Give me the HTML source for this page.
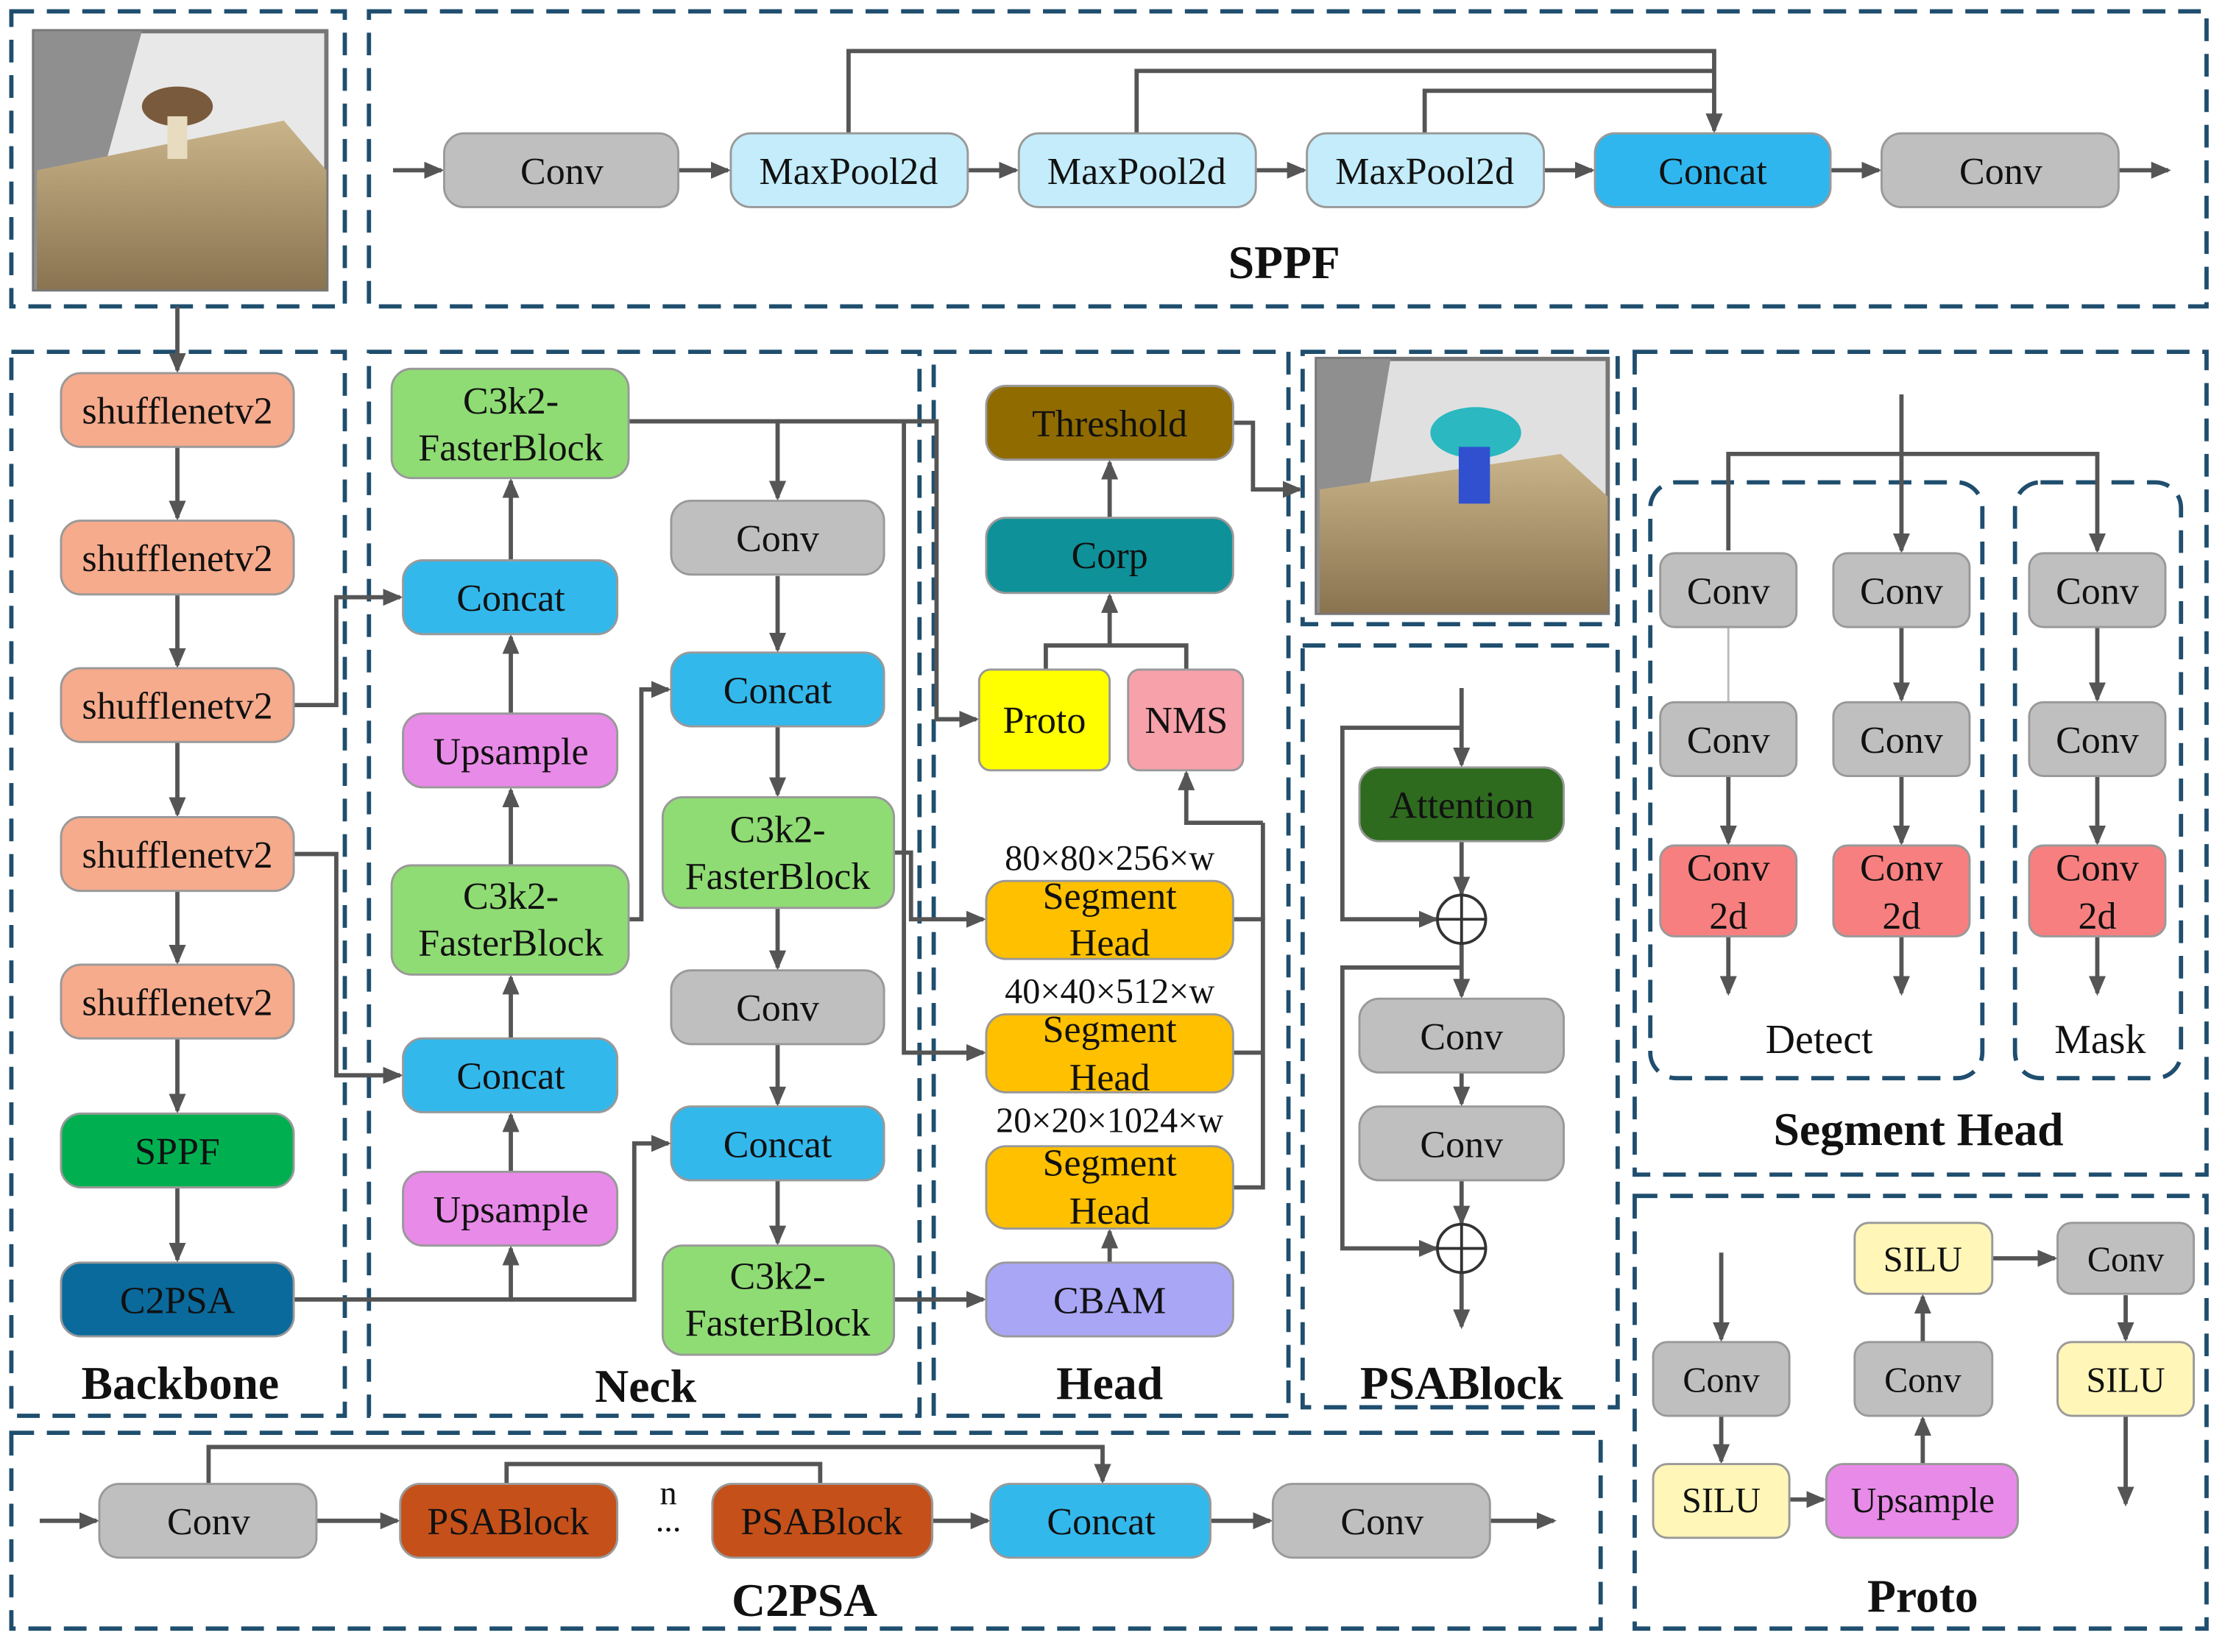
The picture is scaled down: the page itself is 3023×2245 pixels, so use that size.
<!DOCTYPE html>
<html><head><meta charset="utf-8">
<style>
html,body{margin:0;padding:0;background:#fff;}
svg{display:block;}
text{font-family:"Liberation Serif",serif;}
</style></head>
<body>
<svg width="3023" height="2245" viewBox="0 0 1568 1164.5" preserveAspectRatio="none" xmlns="http://www.w3.org/2000/svg">
<defs>
<marker id="a" markerWidth="14" markerHeight="12" refX="12" refY="6" orient="auto" markerUnits="userSpaceOnUse">
<path d="M0,0 L14,6 L0,12 z" fill="#555"/></marker>
<linearGradient id="log" x1="0" y1="0" x2="0" y2="1"><stop offset="0" stop-color="#c9b48a"/><stop offset="1" stop-color="#8a7350"/></linearGradient>
</defs>
<rect width="1568" height="1164.5" fill="#fff"/>

<g fill="none" stroke="#1f4e6e" stroke-width="3" stroke-dasharray="16 9">
<rect x="8" y="8" width="235" height="208"/>
<rect x="260" y="8" width="1295" height="208"/>
<rect x="8" y="248" width="235" height="750"/>
<rect x="260" y="248" width="388" height="750"/>
<rect x="658" y="248" width="250" height="750"/>
<rect x="918" y="248" width="222" height="192"/>
<rect x="918" y="455" width="222" height="537"/>
<rect x="1152" y="248" width="403" height="580"/>
<rect x="1152" y="843" width="403" height="305"/>
<rect x="8" y="1010" width="1120" height="138"/>
<rect x="1163" y="340" width="234" height="420" rx="18"/>
<rect x="1420" y="340" width="117" height="420" rx="18"/>
</g>

<!-- images -->
<g>
<rect x="24" y="22" width="206" height="182" fill="#e8e8e8" stroke="#777" stroke-width="3"/>
<polygon points="24,22 100,22 50,204 24,204" fill="#8f8f8f"/>
<polygon points="26,120 200,85 230,120 230,204 26,204" fill="url(#log)"/>
<ellipse cx="125" cy="75" rx="25" ry="14" fill="#7a5a3c"/>
<rect x="118" y="82" width="14" height="30" fill="#e8dcc0"/>
<rect x="928" y="253" width="205" height="179" fill="#e0e0e0" stroke="#777" stroke-width="3"/>
<polygon points="928,253 980,253 950,432 928,432" fill="#8f8f8f"/>
<polygon points="930,345 1100,320 1133,350 1133,432 930,432" fill="url(#log)"/>
<ellipse cx="1040" cy="305" rx="32" ry="18" fill="#2bb8c0"/>
<rect x="1028" y="315" width="22" height="40" fill="#3050d0"/>
</g>

<g stroke="#555" stroke-width="3" fill="none" marker-end="url(#a)">
<!-- SPPF -->
<line x1="277" y1="120" x2="311" y2="120"/>
<line x1="478" y1="120" x2="513" y2="120"/>
<line x1="682" y1="120" x2="716" y2="120"/>
<line x1="885" y1="120" x2="919" y2="120"/>
<line x1="1088" y1="120" x2="1122" y2="120"/>
<line x1="1290" y1="120" x2="1324" y2="120"/>
<line x1="1493" y1="120" x2="1528" y2="120"/>
<polyline points="598,94 598,36 1208,36 1208,92"/>
<polyline points="801,94 801,50 1208,50" marker-end="none"/>
<polyline points="1004,94 1004,64 1208,64" marker-end="none"/>
<!-- backbone -->
<line x1="125" y1="216" x2="125" y2="261"/>
<line x1="125" y1="315" x2="125" y2="365"/>
<line x1="125" y1="419" x2="125" y2="469"/>
<line x1="125" y1="523" x2="125" y2="574"/>
<line x1="125" y1="628" x2="125" y2="678"/>
<line x1="125" y1="732" x2="125" y2="783"/>
<line x1="125" y1="837" x2="125" y2="888"/>
<!-- neck left -->
<polyline points="207,497 237,497 237,421 282,421"/>
<polyline points="207,602 237,602 237,758 282,758"/>
<polyline points="207,916 360,916 360,880"/>
<polyline points="360,916 447,916 447,806 471,806"/>
<line x1="360" y1="826" x2="360" y2="786"/>
<line x1="360" y1="732" x2="360" y2="689"/>
<line x1="360" y1="610" x2="360" y2="557"/>
<line x1="360" y1="503" x2="360" y2="449"/>
<line x1="360" y1="395" x2="360" y2="339"/>
<polyline points="443,648 452,648 452,486 471,486"/>
<polyline points="443,297 548,297 548,351"/>
<polyline points="548,297 660,297 660,507 688,507"/>
<polyline points="637,297 637,742 693,742"/>
<line x1="548" y1="406" x2="548" y2="458"/>
<line x1="548" y1="512" x2="548" y2="560"/>
<line x1="548" y1="640" x2="548" y2="682"/>
<line x1="548" y1="736" x2="548" y2="778"/>
<line x1="548" y1="832" x2="548" y2="876"/>
<polyline points="630,601 642,601 642,648 693,648"/>
<line x1="630" y1="916" x2="693" y2="916"/>
<!-- head -->
<line x1="782" y1="890" x2="782" y2="868"/>
<polyline points="869,648 890,648 890,837 869,837" marker-end="none"/>
<line x1="890" y1="580" x2="890" y2="648" marker-end="none"/>
<line x1="869" y1="742" x2="890" y2="742" marker-end="none"/>
<polyline points="890,580 836,580 836,545"/>
<polyline points="737,472 737,455 836,455 836,472" marker-end="none"/>
<line x1="782" y1="455" x2="782" y2="420"/>
<line x1="782" y1="365" x2="782" y2="326"/>
<polyline points="869,298 883,298 883,345 916,345"/>
<!-- PSABlock -->
<line x1="1030" y1="485" x2="1030" y2="539"/>
<polyline points="1030,513 946,513 946,648 1012,648"/>
<line x1="1030" y1="593" x2="1030" y2="630"/>
<line x1="1030" y1="664" x2="1030" y2="702"/>
<polyline points="1030,682 946,682 946,880 1012,880"/>
<line x1="1030" y1="756" x2="1030" y2="778"/>
<line x1="1030" y1="832" x2="1030" y2="862"/>
<line x1="1030" y1="896" x2="1030" y2="935"/>
<!-- Segment head -->
<line x1="1340" y1="278" x2="1340" y2="388"/>
<polyline points="1218,388 1218,320 1478,320 1478,388"/>
<line x1="1340" y1="442" x2="1340" y2="493"/>
<line x1="1478" y1="442" x2="1478" y2="493"/>
<line x1="1218" y1="547" x2="1218" y2="594"/>
<line x1="1340" y1="547" x2="1340" y2="594"/>
<line x1="1478" y1="547" x2="1478" y2="594"/>
<line x1="1218" y1="660" x2="1218" y2="700"/>
<line x1="1340" y1="660" x2="1340" y2="700"/>
<line x1="1478" y1="660" x2="1478" y2="700"/>
<!-- Proto -->
<line x1="1213" y1="883" x2="1213" y2="944"/>
<line x1="1213" y1="998" x2="1213" y2="1030"/>
<line x1="1261" y1="1057" x2="1285" y2="1057"/>
<line x1="1355" y1="1032" x2="1355" y2="1000"/>
<line x1="1355" y1="946" x2="1355" y2="914"/>
<line x1="1404" y1="887" x2="1448" y2="887"/>
<line x1="1498" y1="913" x2="1498" y2="944"/>
<line x1="1498" y1="998" x2="1498" y2="1060"/>
<!-- C2PSA -->
<line x1="28" y1="1072" x2="68" y2="1072"/>
<line x1="223" y1="1072" x2="280" y2="1072"/>
<line x1="657" y1="1072" x2="696" y2="1072"/>
<line x1="853" y1="1072" x2="895" y2="1072"/>
<line x1="1050" y1="1072" x2="1095" y2="1072"/>
<polyline points="147,1046 147,1020 777,1020 777,1044"/>
<polyline points="357,1046 357,1032 578,1032 578,1046" marker-end="none"/>
</g>
<line x1="1218" y1="442" x2="1218" y2="495" stroke="#bbb" stroke-width="1.5"/>

<g stroke-width="1.5" font-size="27" text-anchor="middle" dominant-baseline="central">
<g stroke="#999">
<rect x="313" y="94" width="165" height="52" rx="14" fill="#bfbfbf"/>
<rect x="515" y="94" width="167" height="52" rx="14" fill="#c4ecfa"/>
<rect x="718" y="94" width="167" height="52" rx="14" fill="#c4ecfa"/>
<rect x="921" y="94" width="167" height="52" rx="14" fill="#c4ecfa"/>
<rect x="1124" y="94" width="166" height="52" rx="14" fill="#2fb6ee"/>
<rect x="1326" y="94" width="167" height="52" rx="14" fill="#bfbfbf"/>

<rect x="43" y="263" width="164" height="52" rx="14" fill="#f6ab8c"/>
<rect x="43" y="367" width="164" height="52" rx="14" fill="#f6ab8c"/>
<rect x="43" y="471" width="164" height="52" rx="14" fill="#f6ab8c"/>
<rect x="43" y="576" width="164" height="52" rx="14" fill="#f6ab8c"/>
<rect x="43" y="680" width="164" height="52" rx="14" fill="#f6ab8c"/>
<rect x="43" y="785" width="164" height="52" rx="14" fill="#00b050"/>
<rect x="43" y="890" width="164" height="52" rx="14" fill="#0a6a9c"/>

<rect x="276" y="260" width="167" height="77" rx="14" fill="#8fdc74"/>
<rect x="284" y="395" width="151" height="52" rx="14" fill="#33b8ec"/>
<rect x="284" y="503" width="151" height="52" rx="14" fill="#e88ae8"/>
<rect x="276" y="610" width="167" height="77" rx="14" fill="#8fdc74"/>
<rect x="284" y="732" width="151" height="52" rx="14" fill="#33b8ec"/>
<rect x="284" y="826" width="151" height="52" rx="14" fill="#e88ae8"/>
<rect x="473" y="353" width="150" height="52" rx="14" fill="#bfbfbf"/>
<rect x="473" y="460" width="150" height="52" rx="14" fill="#33b8ec"/>
<rect x="467" y="562" width="163" height="78" rx="14" fill="#8fdc74"/>
<rect x="473" y="684" width="150" height="52" rx="14" fill="#bfbfbf"/>
<rect x="473" y="780" width="150" height="52" rx="14" fill="#33b8ec"/>
<rect x="467" y="878" width="163" height="77" rx="14" fill="#8fdc74"/>

<rect x="695" y="272" width="174" height="52" rx="14" fill="#8f6b00"/>
<rect x="695" y="365" width="174" height="53" rx="14" fill="#0e9198"/>
<rect x="690" y="472" width="92" height="71" rx="8" fill="#ffff00"/>
<rect x="795" y="472" width="81" height="71" rx="8" fill="#f7a1aa"/>
<rect x="695" y="621" width="174" height="55" rx="14" fill="#ffc000"/>
<rect x="695" y="715" width="174" height="55" rx="14" fill="#ffc000"/>
<rect x="695" y="808" width="174" height="58" rx="14" fill="#ffc000"/>
<rect x="695" y="890" width="174" height="52" rx="14" fill="#a9a6f5"/>

<rect x="958" y="541" width="144" height="52" rx="14" fill="#2e6b1f"/>
<rect x="958" y="704" width="144" height="52" rx="14" fill="#bfbfbf"/>
<rect x="958" y="780" width="144" height="52" rx="14" fill="#bfbfbf"/>

<rect x="1170" y="390" width="96" height="52" rx="10" fill="#bfbfbf"/>
<rect x="1292" y="390" width="96" height="52" rx="10" fill="#bfbfbf"/>
<rect x="1430" y="390" width="96" height="52" rx="10" fill="#bfbfbf"/>
<rect x="1170" y="495" width="96" height="52" rx="10" fill="#bfbfbf"/>
<rect x="1292" y="495" width="96" height="52" rx="10" fill="#bfbfbf"/>
<rect x="1430" y="495" width="96" height="52" rx="10" fill="#bfbfbf"/>
<rect x="1170" y="596" width="96" height="64" rx="10" fill="#f87f7f"/>
<rect x="1292" y="596" width="96" height="64" rx="10" fill="#f87f7f"/>
<rect x="1430" y="596" width="96" height="64" rx="10" fill="#f87f7f"/>

<rect x="1165" y="946" width="96" height="52" rx="10" fill="#bfbfbf"/>
<rect x="1165" y="1032" width="96" height="52" rx="10" fill="#fff6b8"/>
<rect x="1287" y="1032" width="135" height="52" rx="12" fill="#e88ae8"/>
<rect x="1307" y="946" width="97" height="52" rx="10" fill="#bfbfbf"/>
<rect x="1307" y="862" width="97" height="50" rx="10" fill="#fff6b8"/>
<rect x="1450" y="862" width="96" height="50" rx="10" fill="#bfbfbf"/>
<rect x="1450" y="946" width="96" height="52" rx="10" fill="#fff6b8"/>

<rect x="70" y="1046" width="153" height="52" rx="14" fill="#bfbfbf"/>
<rect x="282" y="1046" width="153" height="52" rx="14" fill="#c5501a"/>
<rect x="502" y="1046" width="155" height="52" rx="14" fill="#c5501a"/>
<rect x="698" y="1046" width="155" height="52" rx="14" fill="#33b8ec"/>
<rect x="897" y="1046" width="153" height="52" rx="14" fill="#bfbfbf"/>
</g>
<g fill="#fff" stroke="#333" stroke-width="2">
<circle cx="1030" cy="648" r="17"/><circle cx="1030" cy="880" r="17"/>
</g>
<g stroke="#333" stroke-width="2">
<line x1="1013" y1="648" x2="1047" y2="648"/><line x1="1030" y1="631" x2="1030" y2="665"/>
<line x1="1013" y1="880" x2="1047" y2="880"/><line x1="1030" y1="863" x2="1030" y2="897"/>
</g>

<g stroke="none" fill="#111">
<text x="396" y="121">Conv</text>
<text x="598" y="121">MaxPool2d</text>
<text x="801" y="121">MaxPool2d</text>
<text x="1004" y="121">MaxPool2d</text>
<text x="1207" y="121">Concat</text>
<text x="1410" y="121">Conv</text>

<text x="125" y="290">shufflenetv2</text>
<text x="125" y="394">shufflenetv2</text>
<text x="125" y="498">shufflenetv2</text>
<text x="125" y="603">shufflenetv2</text>
<text x="125" y="707">shufflenetv2</text>
<text x="125" y="812">SPPF</text>
<text x="125" y="917">C2PSA</text>

<text x="360" y="283">C3k2-</text><text x="360" y="316">FasterBlock</text>
<text x="360" y="422">Concat</text>
<text x="360" y="530">Upsample</text>
<text x="360" y="632">C3k2-</text><text x="360" y="665">FasterBlock</text>
<text x="360" y="759">Concat</text>
<text x="360" y="853">Upsample</text>
<text x="548" y="380">Conv</text>
<text x="548" y="487">Concat</text>
<text x="548" y="585">C3k2-</text><text x="548" y="618">FasterBlock</text>
<text x="548" y="711">Conv</text>
<text x="548" y="807">Concat</text>
<text x="548" y="900">C3k2-</text><text x="548" y="933">FasterBlock</text>

<text x="782" y="299">Threshold</text>
<text x="782" y="392">Corp</text>
<text x="736" y="508">Proto</text>
<text x="836" y="508">NMS</text>
<text x="782" y="605" font-size="25">80×80×256×w</text>
<text x="782" y="632">Segment</text><text x="782" y="665">Head</text>
<text x="782" y="699" font-size="25">40×40×512×w</text>
<text x="782" y="726">Segment</text><text x="782" y="760">Head</text>
<text x="782" y="790" font-size="25">20×20×1024×w</text>
<text x="782" y="820">Segment</text><text x="782" y="854">Head</text>
<text x="782" y="917">CBAM</text>

<text x="1030" y="568">Attention</text>
<text x="1030" y="731">Conv</text>
<text x="1030" y="807">Conv</text>

<text x="1218" y="417">Conv</text><text x="1340" y="417">Conv</text><text x="1478" y="417">Conv</text>
<text x="1218" y="522">Conv</text><text x="1340" y="522">Conv</text><text x="1478" y="522">Conv</text>
<text x="1218" y="612">Conv</text><text x="1218" y="646">2d</text>
<text x="1340" y="612">Conv</text><text x="1340" y="646">2d</text>
<text x="1478" y="612">Conv</text><text x="1478" y="646">2d</text>
<text x="1282" y="733" font-size="29">Detect</text>
<text x="1480" y="733" font-size="29">Mask</text>

<text x="1213" y="973" font-family="Liberation Sans, sans-serif" font-size="25">Conv</text>
<text x="1213" y="1058" font-family="Liberation Sans, sans-serif" font-size="25">SILU</text>
<text x="1355" y="1058" font-family="Liberation Sans, sans-serif" font-size="25">Upsample</text>
<text x="1355" y="973" font-family="Liberation Sans, sans-serif" font-size="25">Conv</text>
<text x="1355" y="888" font-family="Liberation Sans, sans-serif" font-size="25">SILU</text>
<text x="1498" y="888" font-family="Liberation Sans, sans-serif" font-size="25">Conv</text>
<text x="1498" y="973" font-family="Liberation Sans, sans-serif" font-size="25">SILU</text>

<text x="147" y="1073">Conv</text>
<text x="358" y="1073">PSABlock</text>
<text x="579" y="1073">PSABlock</text>
<text x="776" y="1073">Concat</text>
<text x="974" y="1073">Conv</text>
<text x="471" y="1053" font-size="24">n</text>
<text x="471" y="1072" font-size="24">...</text>

<g font-weight="bold" font-size="33">
<text x="905" y="185">SPPF</text>
<text x="127" y="975">Backbone</text>
<text x="455" y="977">Neck</text>
<text x="782" y="975">Head</text>
<text x="1030" y="975">PSABlock</text>
<text x="1352" y="796">Segment Head</text>
<text x="1355" y="1125">Proto</text>
<text x="567" y="1128">C2PSA</text>
</g>
</g>
</g>
</svg>
</body></html>
